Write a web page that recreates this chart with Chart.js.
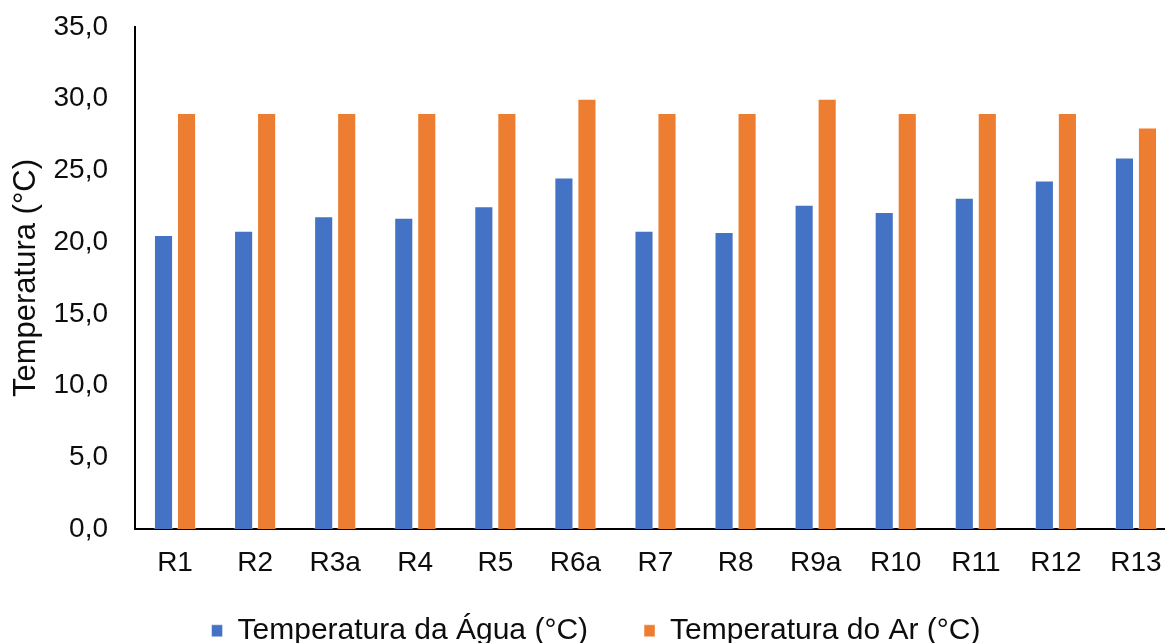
<!DOCTYPE html>
<html>
<head>
<meta charset="utf-8">
<script src="https://cdn.jsdelivr.net/npm/chart.js@4.4.1/dist/chart.umd.min.js"></script>
<style>
html,body{margin:0;padding:0;background:#fff;overflow:hidden;}
#wrap{width:1165px;height:643px;position:relative;overflow:hidden;}
canvas{display:block;}
</style>
</head>
<body>
<div id="wrap"><canvas id="c" width="1176" height="643"></canvas></div>
<script>
const categories = ['R1','R2','R3a','R4','R5','R6a','R7','R8','R9a','R10','R11','R12','R13'];
const aguaValues = [20.5, 20.8, 21.8, 21.7, 22.5, 24.5, 20.8, 20.7, 22.6, 22.1, 23.1, 24.3, 25.9];
const arValues   = [29.0, 29.0, 29.0, 29.0, 29.0, 30.0, 29.0, 29.0, 30.0, 29.0, 29.0, 29.0, 28.0];
const seriesNames = ['Temperatura da Água (°C)', 'Temperatura do Ar (°C)'];
const yTicks = [0, 5, 10, 15, 20, 25, 30, 35];
const yTitle = 'Temperatura (°C)';

const FONT = "'Liberation Sans', Arial, sans-serif";
const TXT = '#0d0d0d';

// shift the legend block (keeps item spacing independent of its vertical offset)
const legendShift = {
  id: 'legendShift',
  afterLayout(chart) {
    const l = chart.legend;
    if (!l) return;
    const dy = -20, dx = 8;
    l.top += dy; l.bottom += dy;
    l.left += dx; l.right += dx;
  }
};

new Chart(document.getElementById('c'), {
  type: 'bar',
  data: {
    labels: categories,
    datasets: [
      { label: seriesNames[0], data: aguaValues, backgroundColor: '#4472C4', borderColor: 'rgba(255,255,255,0.45)', borderWidth: 1 },
      { label: seriesNames[1], data: arValues, backgroundColor: '#ED7D31', borderColor: 'rgba(255,255,255,0.45)', borderWidth: 1 }
    ]
  },
  plugins: [legendShift],
  options: {
    responsive: false,
    animation: false,
    devicePixelRatio: 1,
    layout: { padding: { top: 0, right: 0, bottom: -32.8, left: 0 } },
    datasets: { bar: { categoryPercentage: 0.575, barPercentage: 0.83 } },
    scales: {
      x: {
        grid: { display: false, drawTicks: false },
        border: { display: true, color: '#000', width: 2 },
        ticks: { color: TXT, font: { family: FONT, size: 28 }, padding: 17.2, maxRotation: 0, autoSkip: false },
        afterFit: (s) => { s.height = 50.8; s.paddingLeft = 0; s.paddingRight = 0; }
      },
      y: {
        min: 0, max: 35,
        afterBuildTicks: (s) => { s.ticks = yTicks.map(v => ({ value: v })); },
        afterFit: (s) => { s.width = 135; s.paddingTop = 27; s.paddingBottom = 0; },
        grid: { display: false, drawTicks: false },
        border: { display: true, color: '#000', width: 2 },
        ticks: { color: TXT, font: { family: FONT, size: 28 }, padding: 27,
          callback: (v) => Number(v).toFixed(1).replace('.', ',') },
        title: { display: true, text: yTitle, color: TXT, font: { family: FONT, size: 31 }, padding: { top: 8, bottom: 0 } }
      }
    },
    plugins: {
      legend: {
        position: 'bottom',
        labels: { color: TXT, font: { family: FONT, size: 30 }, boxWidth: 11, boxHeight: 12, padding: 56 }
      },
      tooltip: { enabled: false }
    }
  }
});
</script>
</body>
</html>
